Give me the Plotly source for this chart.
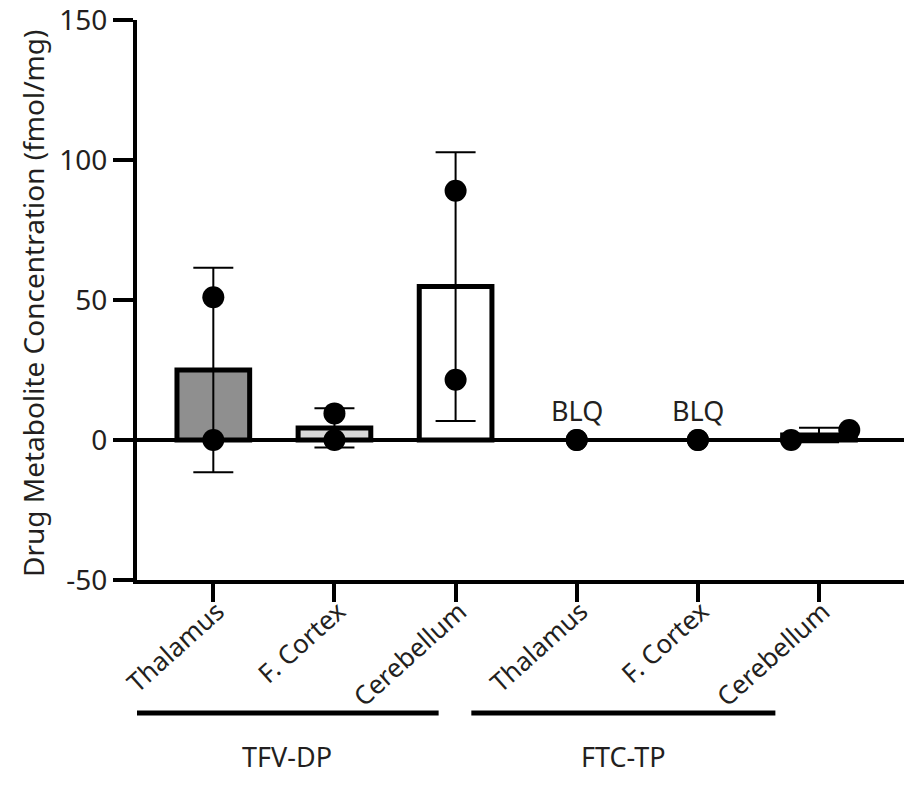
import plotly.graph_objects as go

# ---- data ----
categories = ["Thalamus", "F. Cortex", "Cerebellum", "Thalamus", "F. Cortex", "Cerebellum"]
groups = ["TFV-DP", "FTC-TP"]
bar_means = [25.0, 4.3, 54.8, None, None, 1.8]
bar_sd = [36.5, 7.0, 48.0, None, None, 2.6]
points_a = [51.0, 9.5, 89.0, 0.0, 0.0, 0.0]
points_b = [0.0, 0.0, 21.5, 0.0, 0.0, 3.6]
blq_flags = [False, False, False, True, True, False]
y_ticks = [-50, 0, 50, 100, 150]

# ---- style ----
bar_fills = ["#8f8f8f", "#d9d9d9", "#ffffff", "#ffffff", "#ffffff", "#ffffff"]
offset_a = [0, 0, 0, 0, 0, -0.23]
offset_b = [0, 0, 0, 0, 0, 0.25]
FONT = "Noto Sans"
TXT = "#231f20"

xpos = list(range(len(categories)))

fig = go.Figure()

fig.add_trace(go.Bar(
    x=xpos, y=bar_means, width=0.6,
    marker=dict(color=bar_fills, line=dict(color="black", width=5)),
    error_y=dict(type="data", array=bar_sd, visible=True, color="black",
                 thickness=2, width=20),
    showlegend=False, hoverinfo="skip",
))

px_all = [x + o for x, o in zip(xpos, offset_a)] + [x + o for x, o in zip(xpos, offset_b)]
py_all = points_a + points_b
fig.add_trace(go.Scatter(
    x=px_all, y=py_all, mode="markers",
    marker=dict(color="black", size=22),
    showlegend=False, cliponaxis=False,
))

annotations = []
for x, flag in zip(xpos, blq_flags):
    if flag:
        annotations.append(dict(x=x, y=0, xref="x", yref="y", text="BLQ",
                                showarrow=False, yshift=30,
                                font=dict(family=FONT, size=27, color=TXT)))

annotations.append(dict(x=0, y=0.5, xref="paper", yref="paper",
                        text="Drug Metabolite Concentration (fmol/mg)",
                        textangle=-90, showarrow=False, xshift=-104, yshift=-4,
                        xanchor="center", yanchor="middle",
                        font=dict(family=FONT, size=28, color=TXT)))

group_spans = [(-0.65, 1.86), (2.13, 4.64)]
shapes = []
for name, (x0, x1) in zip(groups, group_spans):
    shapes.append(dict(type="line", xref="x", yref="paper", x0=x0, x1=x1,
                       y0=-0.2375, y1=-0.2375,
                       line=dict(color="black", width=5)))
    annotations.append(dict(x=(x0 + x1) / 2, y=-0.316, xref="x", yref="paper",
                            text=name, showarrow=False,
                            xanchor="center", yanchor="middle",
                            font=dict(family=FONT, size=27, color=TXT)))

fig.update_layout(
    width=912, height=785,
    margin=dict(l=129, r=15, t=12, b=213, autoexpand=False),
    paper_bgcolor="white", plot_bgcolor="white",
    annotations=annotations, shapes=shapes,
    xaxis=dict(range=[-0.63, 5.71], tickmode="array", tickvals=xpos,
               ticktext=categories, tickangle=-42, automargin=False,
               ticks="outside", ticklen=18, tickwidth=4, tickcolor="black",
               ticklabelstandoff=-16, ticklabelshift=4,
               showline=True, linecolor="black", linewidth=4,
               showgrid=False, zeroline=False,
               tickfont=dict(family=FONT, size=26, color=TXT)),
    yaxis=dict(range=[-50, 150], tickmode="array", tickvals=y_ticks,
               ticktext=[str(v) for v in y_ticks], automargin=False,
               ticks="outside", ticklen=20, tickwidth=4, tickcolor="black",
               ticklabeloverflow="allow",
               showline=True, linecolor="black", linewidth=4,
               showgrid=False, zeroline=True, zerolinecolor="black",
               zerolinewidth=4,
               tickfont=dict(family=FONT, size=28, color=TXT)),
)

fig.write_html("out.html")
